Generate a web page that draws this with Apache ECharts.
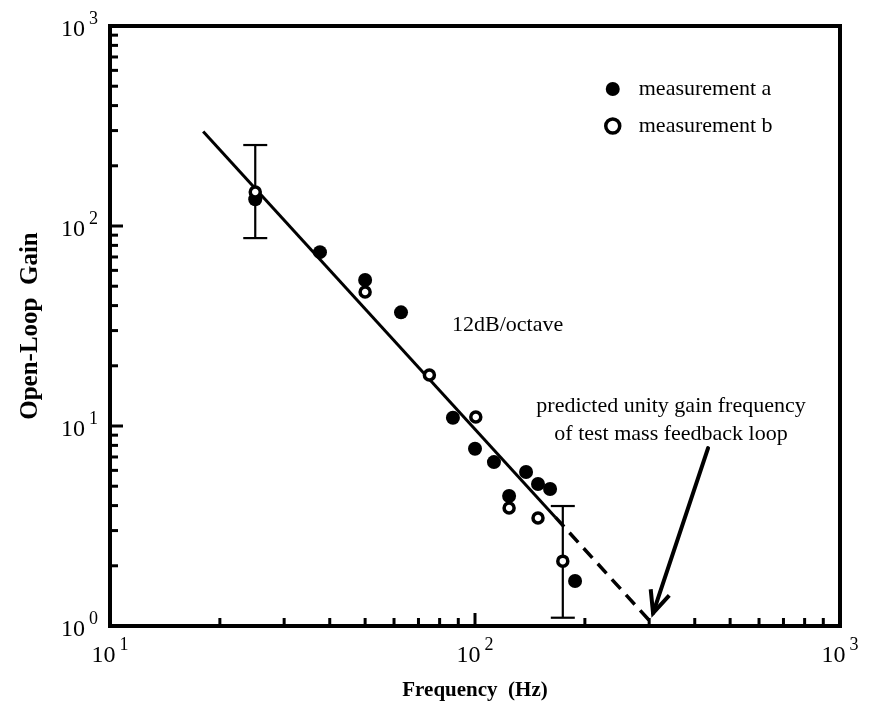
<!DOCTYPE html>
<html>
<head>
<meta charset="utf-8">
<script src="https://cdn.jsdelivr.net/npm/echarts@6/dist/echarts.min.js"></script>
<style>html,body{margin:0;padding:0;background:#fff;}#c{width:870px;height:711px;}</style>
</head>
<body>
<div id="c"></div>
<script>
// ---- data ----
var freqA = [25, 37.6, 50, 62.7, 87, 100, 112.7, 124, 138, 148.8, 160.6, 188];
var gainA = [136, 74, 53.7, 37, 11, 7.7, 6.6, 4.47, 5.89, 5.13, 4.84, 1.68];
var freqB = [25, 50, 75, 100.5, 124, 148.8, 174];
var gainB = [148, 46.8, 18, 11.1, 3.89, 3.47, 2.11];
var errFreq = [25, 174];
var errLow = [87, 1.1];
var errHigh = [254, 3.98];
var fitSolidFreq = [18, 166];
var fitSolidGain = [297, 3.5];
var fitDashFreq = [166, 310];
var fitDashGain = [3.5, 1];
var arrowFrom = [435, 7.76];
var arrowTo = [307.5, 1.16];
var xTickValues = [10,20,30,40,50,60,70,80,90,100,200,300,400,500,600,700,800,900,1000];
var yTickValues = [1,2,3,4,5,6,7,8,9,10,20,30,40,50,60,70,80,90,100,200,300,400,500,600,700,800,900,1000];
var legendNames = ['measurement a', 'measurement b'];
var xTitle = 'Frequency  (Hz)';
var yTitle = 'Open-Loop  Gain';
var slopeText = '12dB/octave';
var noteLines = ['predicted unity gain frequency', 'of test mass feedback loop'];

var SERIF = '"Liberation Serif","DejaVu Serif",serif';
function zip(a, b) { return a.map(function (v, i) { return [v, b[i]]; }); }
function isMajor(v) { var l = Math.log10(v); return Math.abs(l - Math.round(l)) < 1e-9; }

var chart = echarts.init(document.getElementById('c'), null, { renderer: 'canvas' });

var labelRich = {
  b: { fontSize: 24, fontFamily: SERIF, color: '#000', lineHeight: 32, verticalAlign: 'bottom' },
  s: { fontSize: 18, fontFamily: SERIF, color: '#000', lineHeight: 32, verticalAlign: 'top', padding: [0, 0, 0, 4] }
};
function powLabel(v) { return '{b|10}{s|' + Math.round(Math.log10(v)) + '}'; }

var option = {
  backgroundColor: '#fff',
  animation: false,
  grid: {
    left: 110, right: 30, top: 26, bottom: 85, containLabel: false, outerBoundsMode: 'none',
    show: true, borderColor: '#000', borderWidth: 4, backgroundColor: 'transparent'
  },
  xAxis: {
    type: 'log', logBase: 10, min: 10, max: 1000,
    name: xTitle, nameLocation: 'middle', nameGap: 54,
    nameTextStyle: { fontFamily: SERIF, fontWeight: 'bold', fontSize: 21, color: '#000' },
    axisLine: { show: false }, axisTick: { show: false }, splitLine: { show: false },
    axisLabel: { formatter: powLabel, rich: labelRich, margin: 10, color: '#000' }
  },
  yAxis: {
    type: 'log', logBase: 10, min: 1, max: 1000,
    name: yTitle, nameLocation: 'middle', nameGap: 67, nameRotate: 90,
    nameTextStyle: { fontFamily: SERIF, fontWeight: 'bold', fontSize: 25, color: '#000' },
    axisLine: { show: false }, axisTick: { show: false }, splitLine: { show: false },
    axisLabel: { formatter: powLabel, rich: labelRich, margin: 12, color: '#000' }
  },
  legend: {
    orient: 'vertical', left: 599, top: 73, itemWidth: 14, itemHeight: 14, itemGap: 15,
    textStyle: { fontFamily: SERIF, fontSize: 22, color: '#000', padding: [0, 0, 0, 14] },
    data: [
      { name: legendNames[0], icon: 'circle', itemStyle: { color: '#000', borderWidth: 0, opacity: 1 } },
      { name: legendNames[1], icon: 'circle', itemStyle: { color: '#fff', borderColor: '#000', borderWidth: 3.5, opacity: 1 } }
    ]
  },
  graphic: [
    { type: 'text', x: 452, y: 325, style: { text: slopeText, font: '22px ' + SERIF, fill: '#000', verticalAlign: 'middle' } },
    { type: 'text', x: 671, y: 406, style: { text: noteLines[0], font: '22px ' + SERIF, fill: '#000', align: 'center', verticalAlign: 'middle' } },
    { type: 'text', x: 671, y: 434, style: { text: noteLines[1], font: '22px ' + SERIF, fill: '#000', align: 'center', verticalAlign: 'middle' } }
  ],
  series: [
    {
      name: 'xticks', type: 'custom', silent: true, clip: false, z: 5,
      data: xTickValues.map(function (v) { return [v, 1]; }),
      renderItem: function (params, api) {
        var v = api.value(0);
        var p = api.coord([v, 1]);
        var len = isMajor(v) ? 13 : 8;
        return { type: 'line', shape: { x1: p[0], y1: p[1], x2: p[0], y2: p[1] - len }, style: { stroke: '#000', lineWidth: 3 } };
      }
    },
    {
      name: 'yticks', type: 'custom', silent: true, clip: false, z: 5,
      data: yTickValues.map(function (v) { return [10, v]; }),
      renderItem: function (params, api) {
        var v = api.value(1);
        var p = api.coord([10, v]);
        var len = isMajor(v) ? 13 : 8;
        return { type: 'line', shape: { x1: p[0], y1: p[1], x2: p[0] + len, y2: p[1] }, style: { stroke: '#000', lineWidth: 3 } };
      }
    },
    {
      name: 'fit', type: 'line', data: zip(fitSolidFreq, fitSolidGain), showSymbol: false, symbol: 'none',
      lineStyle: { color: '#000', width: 3, opacity: 1 }, z: 2, silent: true
    },
    {
      name: 'fit extrapolated', type: 'line', data: zip(fitDashFreq, fitDashGain), showSymbol: false, symbol: 'none',
      lineStyle: { color: '#000', width: 3.5, type: [13, 8], opacity: 1 }, z: 2, silent: true
    },
    {
      name: 'error bars', type: 'custom', silent: true, z: 3,
      data: errFreq.map(function (f, i) { return [f, errLow[i], errHigh[i]]; }),
      encode: { x: 0, y: [1, 2] },
      renderItem: function (params, api) {
        var lo = api.coord([api.value(0), api.value(1)]);
        var hi = api.coord([api.value(0), api.value(2)]);
        var hw = 12;
        var st = { stroke: '#000', lineWidth: 2.2 };
        return {
          type: 'group', children: [
            { type: 'line', shape: { x1: lo[0], y1: lo[1], x2: hi[0], y2: hi[1] }, style: st },
            { type: 'line', shape: { x1: lo[0] - hw, y1: lo[1], x2: lo[0] + hw, y2: lo[1] }, style: st },
            { type: 'line', shape: { x1: hi[0] - hw, y1: hi[1], x2: hi[0] + hw, y2: hi[1] }, style: st }
          ]
        };
      }
    },
    {
      name: 'arrow', type: 'custom', silent: true, clip: false, z: 4,
      data: [[arrowFrom[0], arrowFrom[1], arrowTo[0], arrowTo[1]]],
      encode: { x: [0, 2], y: [1, 3] },
      renderItem: function (params, api) {
        var a = api.coord([api.value(0), api.value(1)]);
        var b = api.coord([api.value(2), api.value(3)]);
        var ang = Math.atan2(a[1] - b[1], a[0] - b[0]);
        var L = 24, spread = 0.42;
        var h1 = [b[0] + L * Math.cos(ang + spread), b[1] + L * Math.sin(ang + spread)];
        var h2 = [b[0] + L * Math.cos(ang - spread), b[1] + L * Math.sin(ang - spread)];
        var st = { stroke: '#000', lineWidth: 4, lineCap: 'round' };
        return {
          type: 'group', children: [
            { type: 'line', shape: { x1: a[0], y1: a[1], x2: b[0], y2: b[1] }, style: st },
            { type: 'polyline', shape: { points: [h1, b, h2] }, style: { stroke: '#000', lineWidth: 4, fill: null, lineJoin: 'miter' } }
          ]
        };
      }
    },
    {
      name: legendNames[0], type: 'scatter', data: zip(freqA, gainA), symbol: 'circle', symbolSize: 14,
      itemStyle: { color: '#000', opacity: 1 }, z: 6
    },
    {
      name: legendNames[1], type: 'scatter', data: zip(freqB, gainB), symbol: 'circle', symbolSize: 10,
      itemStyle: { color: '#fff', borderColor: '#000', borderWidth: 3.5, opacity: 1 }, z: 7
    }
  ]
};
chart.setOption(option);
</script>
</body>
</html>
